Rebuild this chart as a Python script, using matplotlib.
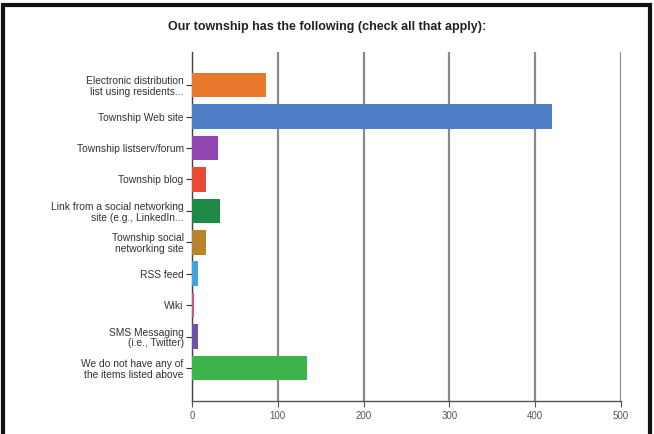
import matplotlib.pyplot as plt
from matplotlib.patches import Rectangle
import numpy as np

plt.rcParams['font.family'] = ['Liberation Sans', 'DejaVu Sans']

# survey answers, top to bottom
labels = [
    "Electronic distribution\nlist using residents...",
    "Township Web site",
    "Township listserv/forum",
    "Township blog",
    "Link from a social networking\nsite (e.g., LinkedIn...",
    "Township social\nnetworking site",
    "RSS feed",
    "Wiki",
    "SMS Messaging\n(i.e., Twitter)",
    "We do not have any of\nthe items listed above",
]
counts = [86, 420, 30, 16, 33, 16, 7, 2, 7, 134]
colors = ["#e8782c", "#4e7ec6", "#9246b0", "#ea4a34", "#1f8a48",
          "#b7842c", "#39a7de", "#d9566e", "#6a54a8", "#3bb54c"]
xticks = [0, 100, 200, 300, 400, 500]

fig = plt.figure(figsize=(6.54, 4.34), dpi=100)
ax = fig.add_axes([0.2936, 0.076, 0.6559, 0.804])

y = np.arange(len(labels))
ax.barh(y, counts, height=0.78, color=colors, zorder=3)

ax.set_xlim(0, 500)
ax.set_ylim(len(labels) - 1 + 1.05, -1.05)
ax.set_yticks(y, labels)
ax.set_xticks(xticks)
ax.xaxis.grid(True, color="#8a8a8a", linewidth=1.6, zorder=1)
ax.tick_params(axis="y", labelsize=7.4, colors="#333333", length=4, width=0.8, pad=2)
ax.tick_params(axis="x", labelsize=7, colors="#555555", length=4, width=0.8)
for lbl in ax.get_yticklabels():
    lbl.set_linespacing(1.1)

for side in ["top", "right"]:
    ax.spines[side].set_visible(False)
ax.spines["left"].set_color("#444444")
ax.spines["bottom"].set_color("#555555")
ax.spines["left"].set_linewidth(1.0)
ax.spines["bottom"].set_linewidth(1.0)

fig.text(0.5, 0.938, "Our township has the following (check all that apply):",
         ha="center", va="center", fontsize=9, fontweight="bold", color="#222222")

# black frame around the whole picture
fig.patches.append(Rectangle((0.005, -0.05), 0.989, 1.038, transform=fig.transFigure,
                             fill=False, edgecolor="#111111", linewidth=3))

fig.savefig("out.png", dpi=100)
